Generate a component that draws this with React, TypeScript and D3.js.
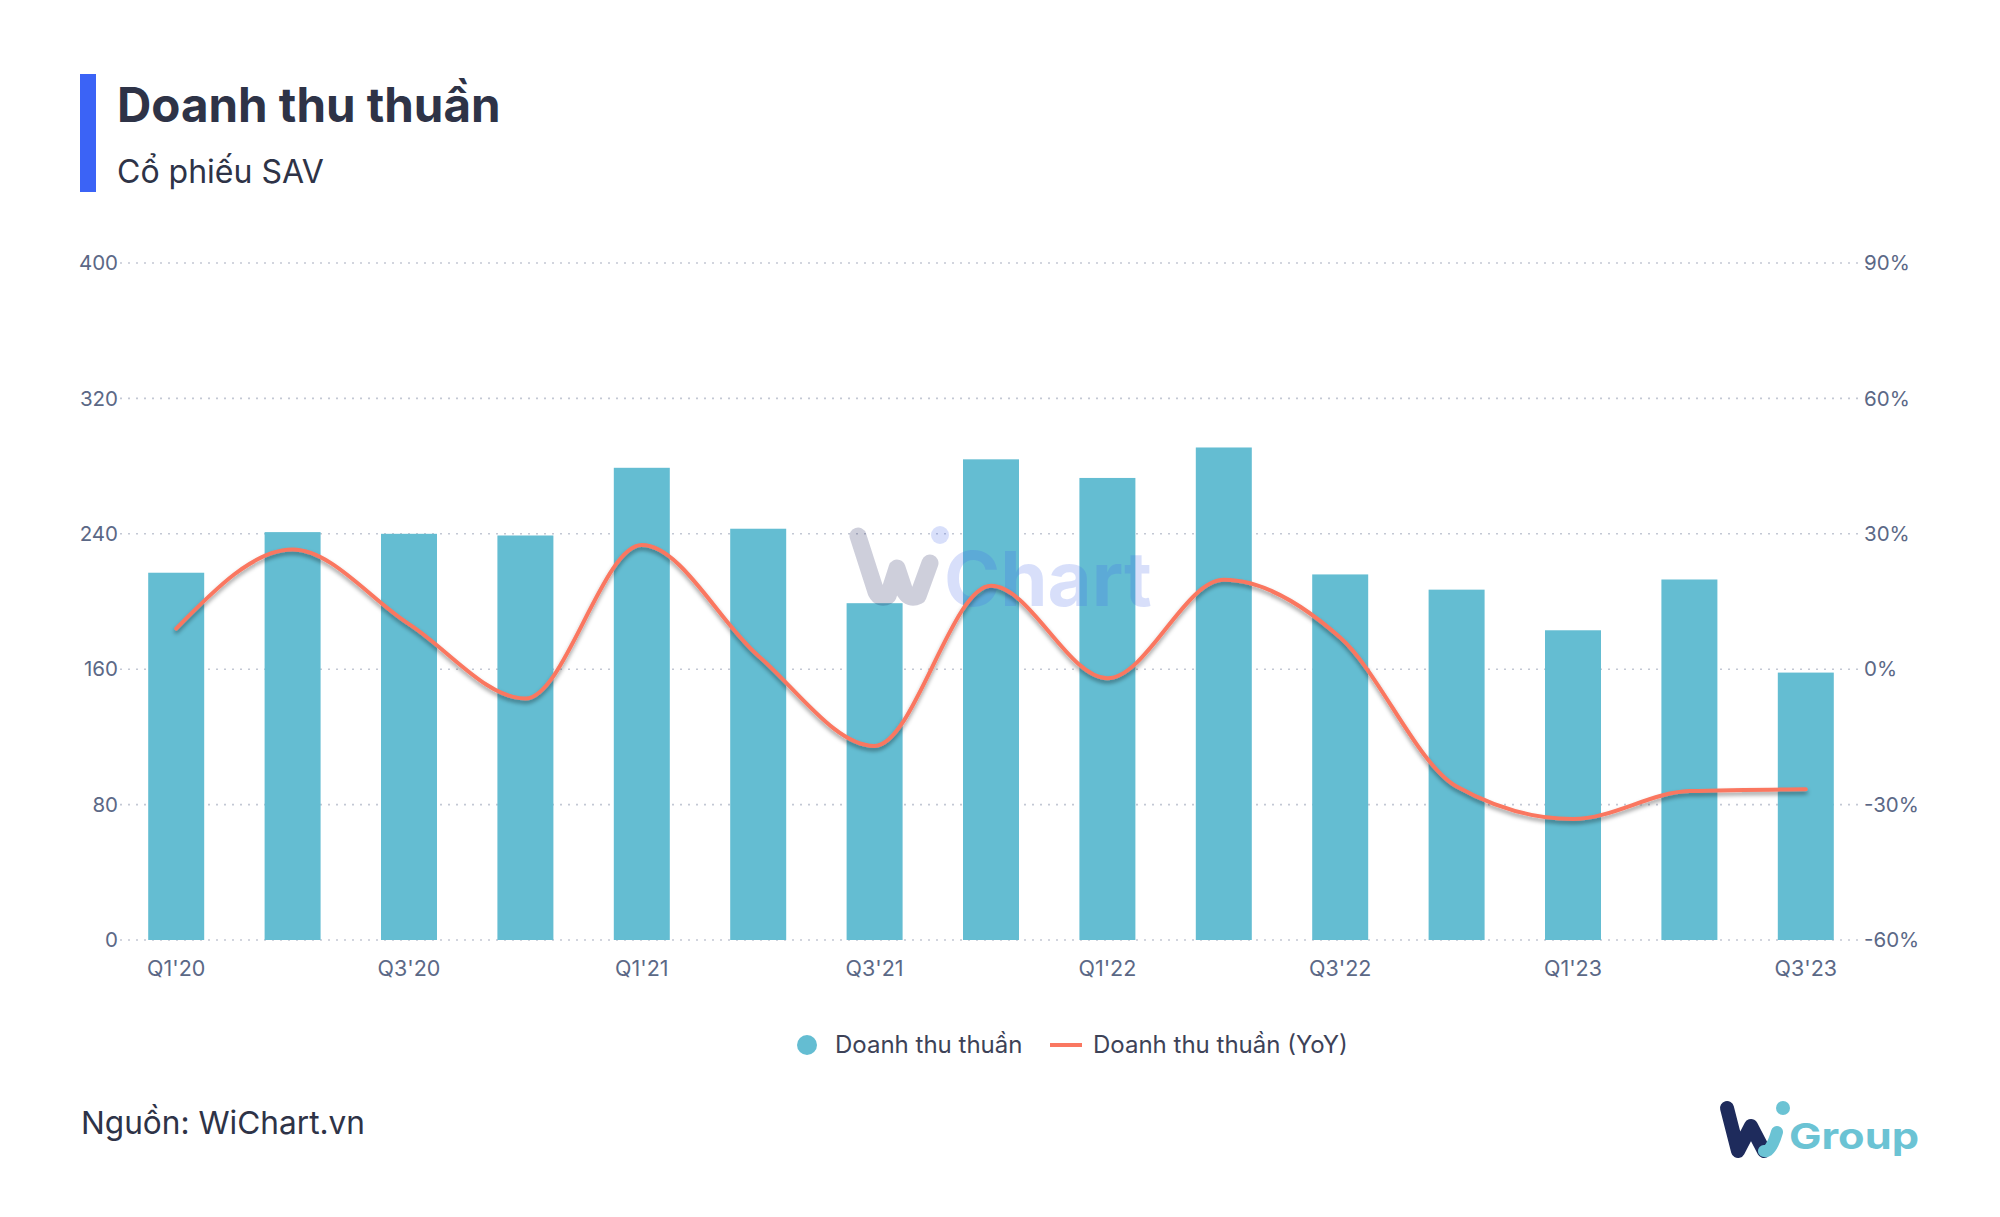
import React from "react";
import * as d3 from "d3";

const categories = ["Q1'20","Q2'20","Q3'20","Q4'20","Q1'21","Q2'21","Q3'21","Q4'21","Q1'22","Q2'22","Q3'22","Q4'22","Q1'23","Q2'23","Q3'23"];
const revenue = [217, 241, 240, 239, 279, 243, 199, 284, 273, 291, 216, 207, 183, 213, 158];
const revenueYoY = [9, 26.5, 10, -6.5, 27.5, 3, -17, 18.5, -2, 19.8, 7, -26, -33.2, -27, -26.6];
const leftTicks = [0, 80, 160, 240, 320, 400];
const rightTicks = [-60, -30, 0, 30, 60, 90];
const xLabelEvery = 2;

const W = 2000, H = 1217;
const FONT = "Inter, 'Noto Sans', sans-serif";

export default function App() {
  const x = d3.scaleBand<string>().domain(categories).range([118, 1864]).paddingInner(0.519).paddingOuter(0.2595);
  const yL = d3.scaleLinear().domain([0, 400]).range([940, 263]);
  const yR = d3.scaleLinear().domain([-60, 90]).range([940, 263]);
  const cx = (c: string) => (x(c) as number) + x.bandwidth() / 2;
  const line = d3.line<number>().x((_, i) => cx(categories[i])).y((d) => yR(d)).curve(d3.curveMonotoneX);

  return (
    <svg width={W} height={H} style={{ display: "block", position: "absolute", left: 0, top: 0 }} fontFamily={FONT}>
      <defs>
        <filter id="sh" x="-10%" y="-20%" width="120%" height="140%">
          <feDropShadow dx="0" dy="3" stdDeviation="2" floodColor="#000" floodOpacity="0.4" />
        </filter>
      </defs>
      <rect width={W} height={H} fill="#fff" />
      {/* header */}
      <rect x={80} y={74} width={16} height={118} fill="#3b63f6" />
      <text x={117} y={122} fontSize={47.5} fontWeight={700} fill="#2e3347">Doanh thu thuần</text>
      <text x={117} y={183} fontSize={32} fill="#2e3347">Cổ phiếu SAV</text>

      {/* grid */}
      {leftTicks.map((t) => (
        <line key={t} x1={120} x2={1860} y1={yL(t)} y2={yL(t)} stroke="#c3c8d4" strokeWidth={1.6} strokeDasharray="2,6" />
      ))}
      {leftTicks.map((t) => (
        <text key={"l" + t} x={118} y={yL(t)} dy="0.35em" textAnchor="end" fontSize={20.5} fill="#5b6886">{t}</text>
      ))}
      {rightTicks.map((t) => (
        <text key={"r" + t} x={1864} y={yR(t)} dy="0.35em" textAnchor="start" fontSize={20.5} fill="#5b6886">{t + "%"}</text>
      ))}

      {/* bars */}
      {categories.map((c, i) => (
        <rect key={c} x={x(c)} y={yL(revenue[i])} width={x.bandwidth()} height={yL(0) - yL(revenue[i])} fill="#64bdd2" />
      ))}
      {categories.map((c, i) => i % xLabelEvery === 0 ? (
        <text key={"x" + c} x={cx(c)} y={976} textAnchor="middle" fontSize={21.5} fill="#5b6886">{c}</text>
      ) : null)}

      {/* watermark */}
      <g opacity={0.2}>
        <path d="M858,536 L876,592 Q880,600 888,596 L897,568 L905,592 Q910,600 918,596 L930,563" fill="none" stroke="#0f1450" strokeWidth={17} strokeLinecap="round" strokeLinejoin="round" />
        <circle cx={940} cy={535} r={9} fill="#4164eb" />
        <text x={944} y={606} fontSize={76} fontWeight={700} fill="#4164eb">Chart</text>
      </g>

      {/* line */}
      <path d={line(revenueYoY) || ""} fill="none" stroke="#fa7761" strokeWidth={4} strokeLinecap="round" filter="url(#sh)" />

      {/* legend */}
      <circle cx={807} cy={1045} r={10} fill="#64bdd2" />
      <text x={835} y={1045} dy="0.35em" fontSize={24} fill="#3d4257">Doanh thu thuần</text>
      <line x1={1050} x2={1082} y1={1045} y2={1045} stroke="#fa7761" strokeWidth={4} />
      <text x={1093} y={1045} dy="0.35em" fontSize={24} fill="#3d4257">Doanh thu thuần (YoY)</text>

      {/* footer */}
      <text x={81} y={1134} fontSize={31.6} fill="#2e3347">Nguồn: WiChart.vn</text>
      <g>
        <path d="M1727,1108 L1738,1151 L1751,1126 L1764,1151" fill="none" stroke="#1e2b5c" strokeWidth={14} strokeLinecap="round" strokeLinejoin="round" />
        <path d="M1764,1151 Q1771,1153 1777,1132" fill="none" stroke="#6bc3d4" strokeWidth={12} strokeLinecap="round" />
        <circle cx={1783} cy={1108} r={7} fill="#6bc3d4" />
        <text x={1789} y={1149} fontSize={36} fontWeight={700} fill="#6bc3d4" textLength={130} lengthAdjust="spacingAndGlyphs">Group</text>
      </g>
    </svg>
  );
}
